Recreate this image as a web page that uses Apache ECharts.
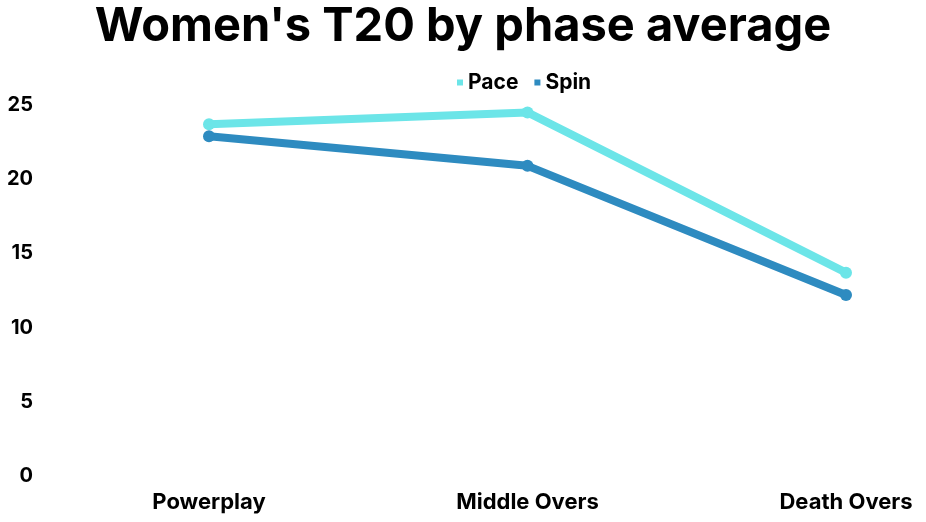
<!DOCTYPE html>
<html><head><meta charset="utf-8">
<script src="https://cdn.jsdelivr.net/npm/echarts@6/dist/echarts.min.js"></script>
<style>html,body{margin:0;padding:0;background:#fff}#c{width:926px;height:522px}</style>
</head><body><div id="c"></div>
<script>
const categories = ['Powerplay', 'Middle Overs', 'Death Overs'];
const pace = [23.7, 24.5, 13.7];
const spin = [22.9, 20.9, 12.2];
const yTicks = [0, 5, 10, 15, 20, 25];

const chart = echarts.init(document.getElementById('c'));
chart.setOption({
  backgroundColor: '#fff',
  title: {
    text: "Women's T20 by phase average",
    left: 'center', top: -2,
    textStyle: { fontFamily: 'Inter', fontWeight: 'bold', fontSize: 47, color: '#000' }
  },
  legend: {
    top: 67, left: 452,
    icon: 'rect', itemWidth: 6, itemHeight: 6, itemGap: 16,
    textStyle: { fontFamily: 'Inter', fontWeight: 'bold', fontSize: 21, color: '#000', padding: [0, 0, 0, 0] },
    data: ['Pace', 'Spin']
  },
  grid: { left: 209, right: 80, top: 105, bottom: 46 },
  xAxis: {
    type: 'category', data: categories, boundaryGap: false,
    axisLine: { show: false }, axisTick: { show: false },
    axisLabel: { fontFamily: 'Inter', fontWeight: 'bold', fontSize: 22, color: '#000', margin: 15 }
  },
  yAxis: {
    type: 'value', min: 0, max: 25, interval: 5,
    splitLine: { show: false }, axisLine: { show: false }, axisTick: { show: false },
    axisLabel: { fontFamily: 'Inter', fontWeight: 'bold', fontSize: 20, color: '#000', margin: 176,
      formatter: v => yTicks.includes(v) ? String(v) : '' }
  },
  series: [
    { name: 'Pace', type: 'line', data: pace, symbol: 'circle', symbolSize: 12,
      lineStyle: { width: 8, color: '#6ce5e8' }, itemStyle: { color: '#6ce5e8' } },
    { name: 'Spin', type: 'line', data: spin, symbol: 'circle', symbolSize: 12,
      lineStyle: { width: 8, color: '#2e8bc0' }, itemStyle: { color: '#2e8bc0' } }
  ]
});
</script></body></html>
